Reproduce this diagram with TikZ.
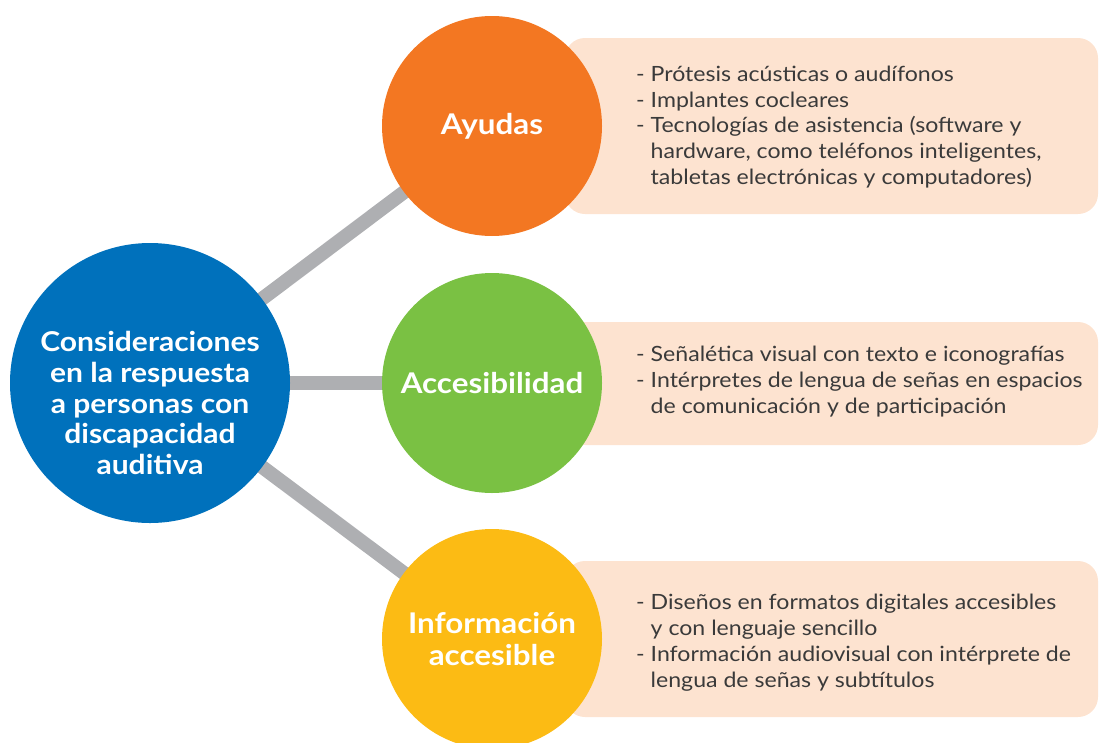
\documentclass[tikz,border=0pt]{standalone}
\usepackage{fontspec}
\setmainfont{Lato}[FakeStretch=1.1]
\usetikzlibrary{backgrounds}
\definecolor{cblue}{RGB}{0,113,188}
\definecolor{corange}{RGB}{243,119,34}
\definecolor{cgreen}{RGB}{122,193,67}
\definecolor{cyellow}{RGB}{252,187,20}
\definecolor{cbox}{RGB}{253,227,208}
\definecolor{cline}{RGB}{174,175,178}
\definecolor{ctext}{RGB}{58,58,58}
\tikzset{
  circ/.style={circle, inner sep=0pt, text=white, align=center, font=\bfseries\fontsize{28.5}{32}\selectfont},
  titletext/.style={inner sep=0pt, text=white, align=center, font=\bfseries\fontsize{27.3}{30.75}\selectfont},
  conn/.style={draw=cline, line width=14pt},
  infobox/.style={rectangle, rounded corners=20pt, fill=cbox, inner sep=0pt},
  infotext/.style={anchor=west, align=left, text=ctext, inner sep=0pt, font=\fontsize{21}{25.8}\selectfont},
}
\newcommand{\ind}{\hphantom{- }}
\begin{document}
\begin{tikzpicture}[x=1pt,y=-1pt]
\useasboundingbox (0,0) rectangle (1099,742);
\clip (0,0) rectangle (1099,742);
% boxes
\node[infobox, minimum width=533pt, minimum height=176pt] (b1) at (831.5,126) {};
\node[infobox, minimum width=533pt, minimum height=123pt] (b2) at (831.5,383.5) {};
\node[infobox, minimum width=533pt, minimum height=156pt] (b3) at (831.5,639) {};
% circles
\node[circ, fill=cblue, minimum size=280pt] (c) at (150,383) {};
\node[titletext] (ct) at (150,403) {Consideraciones\\en la respuesta\\a personas con\\discapacidad\\auditiva};
\node[circ, fill=corange, minimum size=220pt] (a) at (492,126) {Ayudas};
\node[circ, fill=cgreen, minimum size=220pt] (g) at (492,383) {Accesibilidad};
\node[circ, fill=cyellow, minimum size=220pt] (y) at (492,639) {Información\\accesible};
% connectors
\begin{scope}[on background layer]
\draw[conn] (c.center) -- (a.center);
\draw[conn] (c.center) -- (g.center);
\draw[conn] (c.center) -- (y.center);
\end{scope}
% texts
\node[infotext] (t1) at (636,127) {- Prótesis acústicas o audífonos\\- Implantes cocleares\\- Tecnologías de asistencia (software y\\\ind hardware, como teléfonos inteligentes,\\\ind tabletas electrónicas y computadores)};
\node[infotext] (t2) at (636,381.5) {- Señalética visual con texto e iconografías\\- Intérpretes de lengua de señas en espacios\\\ind de comunicación y de participación};
\node[infotext] (t3) at (636,642.5) {- Diseños en formatos digitales accesibles\\\ind y con lenguaje sencillo\\- Información audiovisual con intérprete de\\\ind lengua de señas y subtítulos};
\end{tikzpicture}
\end{document}
